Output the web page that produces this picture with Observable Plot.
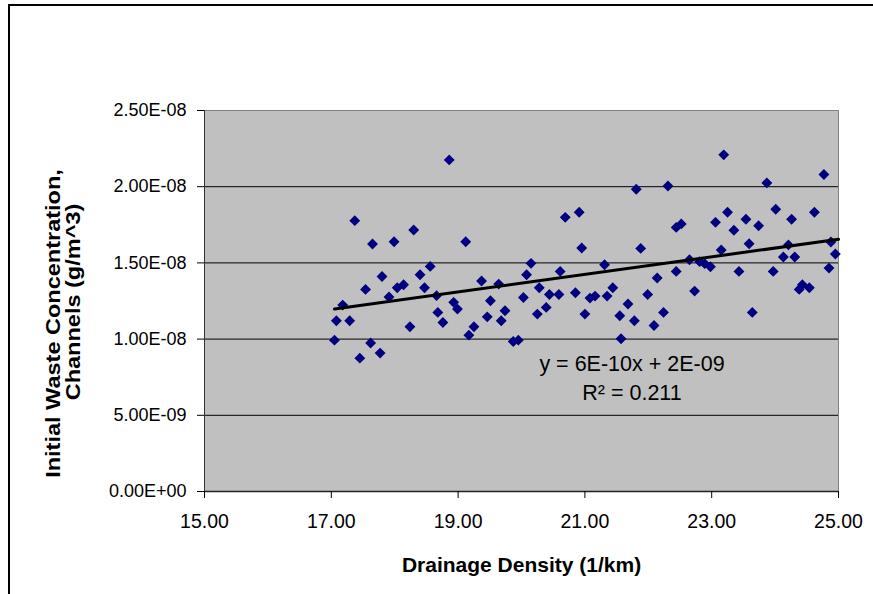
<!DOCTYPE html>
<html><head><meta charset="utf-8">
<script src="https://cdn.jsdelivr.net/npm/d3@7"></script>
<script src="https://cdn.jsdelivr.net/npm/@observablehq/plot@0.6"></script>
<style>
html,body{margin:0;padding:0;background:#fff;overflow:hidden;}
#wrap{position:relative;width:873px;height:594px;overflow:hidden;background:#fff;}
#border{position:absolute;left:8px;top:4px;width:900px;height:650px;border:2px solid #000;box-sizing:border-box;}
#chart{position:absolute;left:0;top:0;}
</style></head><body>
<div id="wrap"><div id="border"></div><div id="chart"></div></div>
<script>
// Drainage density (1/km)
const drainageDensity = [
17.05,17.08,17.18,17.29,17.37,17.45,17.54,17.62,17.65,17.77,
17.80,17.91,17.99,18.04,18.14,18.24,18.30,18.40,18.47,18.56,
18.66,18.68,18.76,18.86,18.93,18.99,19.12,19.17,19.25,19.37,
19.46,19.51,19.64,19.68,19.74,19.87,19.95,20.03,20.08,20.15,
20.25,20.28,20.39,20.44,20.59,20.61,20.69,20.85,20.91,20.95,
21.00,21.08,21.16,21.31,21.35,21.44,21.55,21.57,21.68,21.78,
21.81,21.88,21.99,22.09,22.14,22.24,22.31,22.44,22.44,22.52,
22.65,22.73,22.81,22.89,22.98,23.06,23.15,23.19,23.25,23.35,
23.43,23.54,23.59,23.64,23.74,23.87,23.97,24.01,24.13,24.21,
24.26,24.31,24.38,24.43,24.54,24.62,24.77,24.85,24.88,24.95];
// Initial waste concentration, channels (g/m^3)
const concentration = [
0.993e-8,1.120e-8,1.223e-8,1.120e-8,1.777e-8,0.875e-8,1.326e-8,0.974e-8,1.624e-8,0.908e-8,
1.411e-8,1.276e-8,1.639e-8,1.337e-8,1.357e-8,1.081e-8,1.716e-8,1.422e-8,1.337e-8,1.477e-8,
1.285e-8,1.175e-8,1.109e-8,2.176e-8,1.241e-8,1.197e-8,1.639e-8,1.026e-8,1.081e-8,1.381e-8,
1.146e-8,1.252e-8,1.361e-8,1.120e-8,1.186e-8,0.984e-8,0.993e-8,1.273e-8,1.422e-8,1.497e-8,
1.164e-8,1.337e-8,1.208e-8,1.293e-8,1.293e-8,1.444e-8,1.799e-8,1.304e-8,1.832e-8,1.598e-8,
1.164e-8,1.269e-8,1.282e-8,1.488e-8,1.282e-8,1.337e-8,1.153e-8,1.002e-8,1.230e-8,1.120e-8,
1.983e-8,1.595e-8,1.293e-8,1.089e-8,1.401e-8,1.175e-8,2.005e-8,1.733e-8,1.444e-8,1.756e-8,
1.521e-8,1.315e-8,1.508e-8,1.495e-8,1.475e-8,1.766e-8,1.585e-8,2.209e-8,1.832e-8,1.714e-8,
1.444e-8,1.786e-8,1.626e-8,1.175e-8,1.744e-8,2.025e-8,1.444e-8,1.852e-8,1.539e-8,1.618e-8,
1.786e-8,1.539e-8,1.326e-8,1.357e-8,1.337e-8,1.832e-8,2.080e-8,1.466e-8,1.637e-8,1.558e-8];
// Linear trend line end points (as drawn)
const trendX = [17.05, 25.0];
const trendY = [1.197e-8, 1.655e-8];
// Axis ticks and labels
const xTicks = [15, 17, 19, 21, 23, 25];
const xTickLabels = ["15.00", "17.00", "19.00", "21.00", "23.00", "25.00"];
const yTicks = [0, 0.5e-8, 1.0e-8, 1.5e-8, 2.0e-8, 2.5e-8];
const yTickLabels = ["0.00E+00", "5.00E-09", "1.00E-08", "1.50E-08", "2.00E-08", "2.50E-08"];
const gridTicks = [0.5e-8, 1.0e-8, 1.5e-8, 2.0e-8];
// Texts
const xTitle = "Drainage Density (1/km)";
const yTitleLine1 = "Initial Waste Concentration,";
const yTitleLine2 = "Channels (g/m^3)";
const equationText = "y = 6E-10x + 2E-09";
const r2Text = "R\u00B2 = 0.211";

const points = drainageDensity.map((x, i) => ({x, y: concentration[i]}));
const trend = trendX.map((x, i) => ({x, y: trendY[i]}));
const font = "'Liberation Sans', Arial, sans-serif";

const chart = Plot.plot({
  width: 873, height: 594,
  marginLeft: 204, marginRight: 35, marginTop: 110, marginBottom: 103,
  style: {fontFamily: font, color: "#000", background: "transparent", overflow: "visible"},
  x: {domain: [15, 25]},
  y: {domain: [0, 2.5e-8]},
  marks: [
    Plot.frame({fill: "#c0c0c0", stroke: "#808080"}),
    Plot.gridY(gridTicks, {stroke: "#000", strokeOpacity: 1, strokeWidth: 1}),
    Plot.ruleX([15], {stroke: "#333", strokeWidth: 1}),
    Plot.ruleY([0], {stroke: "#222", strokeWidth: 1.5}),
    Plot.axisX(xTicks, {tickFormat: d => xTickLabels[xTicks.indexOf(d)], tickSize: 7, tickPadding: 16, fontSize: 19.5, label: null, stroke: "#000"}),
    Plot.axisY(yTicks, {tickFormat: d => yTickLabels[yTicks.indexOf(d)], tickSize: 7, tickPadding: 11, fontSize: 18, label: null, stroke: "#000"}),
    Plot.dot(points, {x: "x", y: "y", symbol: "diamond2", r: 4.9, fill: "#000080", stroke: "none"}),
    Plot.line(trend, {x: "x", y: "y", stroke: "#000", strokeWidth: 3}),
    Plot.text([equationText], {text: d => d, frameAnchor: "top", dx: 110.5, dy: 260, lineAnchor: "bottom", fontSize: 21.5, fill: "#000"}),
    Plot.text([r2Text], {text: d => d, frameAnchor: "top", dx: 110.5, dy: 289, lineAnchor: "bottom", fontSize: 21.5, fill: "#000"}),
    Plot.text([xTitle], {text: d => d, frameAnchor: "bottom", dy: 80, lineAnchor: "bottom", fontSize: 21, fontWeight: "bold", fill: "#000"}),
    Plot.text([yTitleLine1], {text: d => d, frameAnchor: "left", dx: -151, dy: 22.5, rotate: -90, lineAnchor: "middle", textAnchor: "middle", fontSize: 21, fontWeight: "bold", fill: "#000"}),
    Plot.text([yTitleLine2], {text: d => d, frameAnchor: "left", dx: -131.5, dy: 1, rotate: -90, lineAnchor: "middle", textAnchor: "middle", fontSize: 21, fontWeight: "bold", fill: "#000"})
  ]
});
// stretch the vertical title lines along their length, as in the reference
d3.select(chart).selectAll("text").each(function() {
  const t = this.textContent;
  if (t === yTitleLine1 || t === yTitleLine2) {
    const tr = this.getAttribute("transform") || "";
    this.setAttribute("transform", tr + " scale(1.12,1)");
  }
});
document.getElementById("chart").appendChild(chart);
</script>
</body></html>
